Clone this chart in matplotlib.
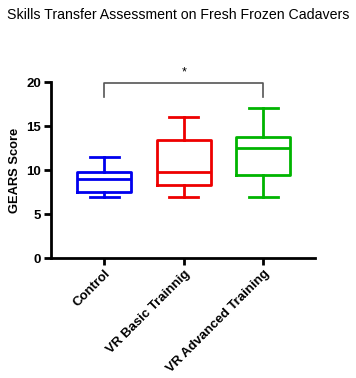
import matplotlib
matplotlib.use("Agg")
import matplotlib.pyplot as plt

plt.rcParams["font.family"] = ["Liberation Sans", "DejaVu Sans"]

groups = ["Control", "VR Basic Trainnig", "VR Advanced Training"]
colors = ["#0000ee", "#ee0000", "#00b400"]
whislo = [7.0, 7.0, 7.0]
q1 = [7.5, 8.3, 9.5]
med = [9.0, 9.8, 12.5]
q3 = [9.8, 13.4, 13.8]
whishi = [11.5, 16.0, 17.0]

fig = plt.figure(figsize=(3.56, 3.78), dpi=100)
ax = fig.add_axes([0.143, 0.317, 0.742, 0.466])

for i, name in enumerate(groups):
    stats = [dict(label=name, whislo=whislo[i], q1=q1[i], med=med[i], q3=q3[i], whishi=whishi[i], fliers=[])]
    c = colors[i]
    ax.bxp(stats, positions=[i + 1], widths=0.68, showfliers=False,
           boxprops=dict(color=c, linewidth=2),
           medianprops=dict(color=c, linewidth=2),
           whiskerprops=dict(color=c, linewidth=2),
           capprops=dict(color=c, linewidth=2),
           capwidths=0.36)

ax.set_xlim(0.33, 3.65)
ax.set_ylim(0, 20)
ax.set_yticks([0, 5, 10, 15, 20])
ax.set_xticks([1, 2, 3])
ax.set_xticklabels(groups, rotation=45, ha="right", rotation_mode="anchor",
                   fontweight="bold", fontsize=9.5)
for lab in ax.get_yticklabels():
    lab.set_fontweight("bold")
    lab.set_fontsize(9.5)
ax.set_ylabel("GEARS Score", fontweight="bold", fontsize=9.3)

for s in ["top", "right"]:
    ax.spines[s].set_visible(False)
for s in ["left", "bottom"]:
    ax.spines[s].set_linewidth(2)
ax.tick_params(width=2, length=5, pad=2)

# significance bracket
ax.plot([1, 1, 3, 3], [18.3, 19.85, 19.85, 18.3], color="#555555", lw=1.2, clip_on=False)
ax.text(2, 20.4, "*", ha="center", va="bottom", fontsize=9)

fig.text(0.5, 0.96, "Skills Transfer Assessment on Fresh Frozen Cadavers", ha="center", va="center", fontsize=10.2)

fig.savefig("out.png", dpi=100)
